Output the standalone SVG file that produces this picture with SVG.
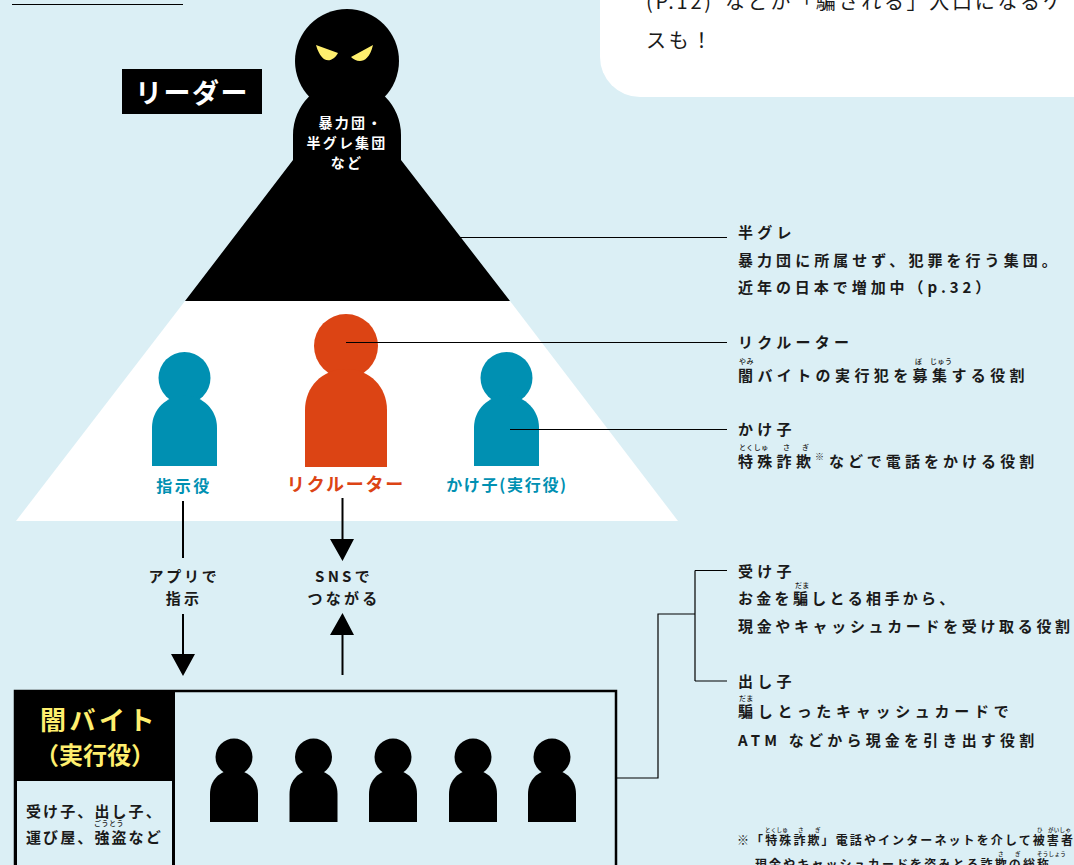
<svg xmlns="http://www.w3.org/2000/svg" width="1074" height="865" viewBox="0 0 1074 865">
<defs>
<g id="p"><circle cx="0" cy="-24" r="18.500"/><path d="M-24 41V13C-24 -1 -14 -11 0 -11C14 -11 24 -1 24 13V41Z"/></g>
<g id="t"><circle cx="0" cy="-31.500" r="26"/><path d="M-32.500 56.500V18C-32.500 0 -18 -14 0 -14C18 -14 32.500 0 32.500 18V56.500Z"/></g>
</defs>
<style>
text{font-family:"Noto Sans CJK JP","Noto Sans",sans-serif;font-weight:700;fill:#1a1a1a}
.b{font-size:15px;letter-spacing:4.300px}
.r{font-size:7px;letter-spacing:0.5px;font-weight:500}
.f{font-size:5.500px;letter-spacing:0.3px;font-weight:500}
.n{font-size:20px;font-weight:400;letter-spacing:2.700px}
.w{font-size:14px;letter-spacing:2.200px;fill:#fff;text-anchor:middle}
.e{font-size:15px;letter-spacing:3.200px;text-anchor:middle}
.s{font-size:12px;letter-spacing:2.100px}
.y{fill:#ffef6e;text-anchor:middle}
.m{font-size:15px;letter-spacing:2.100px}
.l{stroke:#000;stroke-width:1.200;fill:none}
.a{stroke:#000;stroke-width:2;fill:none}
</style>
<rect width="1074" height="865" fill="#dbeff5"/>
<path d="M12 4.500H183" stroke="#000" stroke-width="1"/>
<g id="note"><path d="M600 -20H1074V97H640A40 40 0 0 1 600 57Z" fill="#fff"/>
<text class="n" x="646" y="9">(P.12)<tspan x="725">などが「騙される」入口になるケ</tspan></text>
<text class="n" x="646" y="48">スも！</text></g>
<g id="pyramid-lower"><path d="M185 301H510L678 521H16Z" fill="#fff"/></g>
<g id="leader"><circle cx="347" cy="61" r="52"/>
<path d="M293 160V135A54 54 0 0 1 401 135V160L510 301H185Z" fill="#000"/>
<path d="M316 45L338 53C333 62 322 66 316 45ZM373 45L351 57C356 62 368 66 373 45Z" fill="#ffef6e"/>
<text class="w" x="351" y="128">暴力団・</text>
<text class="w" x="347" y="148">半グレ集団</text>
<text class="w" x="347" y="168">など</text></g>
<g id="leader-label"><rect x="122" y="69" width="140" height="45" fill="#000"/><text x="192" y="103" text-anchor="middle" style="font-size:27px;letter-spacing:1.500px;fill:#fff">リーダー</text></g>
<g id="shiji"><use href="#t" transform="translate(184.500,409.500)" fill="#0090b2"/><text x="184" y="492" text-anchor="middle" style="font-size:16px;letter-spacing:2.500px;fill:#0090b2">指示役</text></g>
<g id="recruiter"><circle cx="346" cy="346" r="32" fill="#dc4414"/><path d="M305 467V410C305 387 322 369 346 369C370 369 387 387 387 410V467Z" fill="#dc4414"/><text x="346" y="491" text-anchor="middle" style="font-size:18px;letter-spacing:1.800px;fill:#dc4414">リクルーター</text></g>
<g id="kakeko"><use href="#t" transform="translate(506.500,409.500)" fill="#0090b2"/><text x="507" y="491" text-anchor="middle" style="font-size:16px;letter-spacing:1.700px;fill:#0090b2">かけ子(実行役)</text></g>
<g id="connectors">
<path class="l" d="M459 237.500H727M346 342.500H727M510 429.500H727M617 778H658V614H695M695 570.500V681M695 570.500H727M695 681H727"/>
<path class="a" d="M183 501V558M183 614V654M342.500 498V540M342.500 634V675"/>
<path d="M171 654H195L183 676Z M330 539H354L342.500 561Z M330 635H354L342.500 613Z"/>
</g>
<g id="edge-labels">
<text class="e" x="184" y="582" style="letter-spacing:2.800px">アプリで</text><text class="e" x="184" y="604">指示</text>
<text class="e" x="344" y="582">SNSで</text><text class="e" x="344" y="604">つながる</text>
</g>
<g id="yami">
<rect x="15" y="691" width="601" height="190" fill="#dbeff5" stroke="#000" stroke-width="2.500"/>
<rect x="15" y="691" width="160" height="190" fill="#000"/>
<rect x="17" y="781" width="155" height="100" fill="#dbeff5"/>
<text class="y" x="99" y="730" style="font-size:26px;letter-spacing:3.500px">闇バイト</text>
<text class="y" x="95" y="764" style="font-size:24px">（実行役）</text>
<text class="m" x="26" y="817">受け子、出し子、</text>
<text class="m" x="26" y="843">運び屋、強盗など</text>
<text x="94" y="826" class="r">ごうとう</text>
<use href="#p" transform="translate(234,781)"/><use href="#p" transform="translate(313.500,781)"/><use href="#p" transform="translate(393,781)"/><use href="#p" transform="translate(473,781)"/><use href="#p" transform="translate(552,781)"/>
</g>
<g id="desc-hangure"><text class="b" x="738" y="238">半グレ</text><text class="b" x="738" y="266" style="letter-spacing:4.050px">暴力団に所属せず、犯罪を行う集団。</text><text class="b" x="738" y="293" style="letter-spacing:3.950px">近年の日本で増加中（p.32）</text></g>
<g id="desc-recruiter"><text class="b" x="738" y="348">リクルーター</text><text class="r" x="739" y="364">やみ</text><text class="r" x="915" y="364">ぼ</text><text class="r" x="930" y="364">じゅう</text><text class="b" x="738" y="381" style="letter-spacing:4.400px">闇バイトの実行犯を募集する役割</text></g>
<g id="desc-kakeko"><text class="b" x="738" y="435">かけ子</text><text class="r" x="739" y="450">とくしゅ</text><text class="r" x="783" y="450">さ</text><text class="r" x="802" y="450">ぎ</text><text class="b" x="738" y="467">特殊詐欺</text><text x="815" y="460" style="font-size:9px;font-weight:400">※</text><text class="b" x="829" y="467" style="letter-spacing:4.050px">などで電話をかける役割</text></g>
<g id="desc-ukeko"><text class="b" x="738" y="577">受け子</text><text class="r" x="795" y="588">だま</text><text class="b" x="738" y="604" style="letter-spacing:3.300px">お金を騙しとる相手から、</text><text class="b" x="738" y="632" style="letter-spacing:3.650px">現金やキャッシュカードを受け取る役割</text></g>
<g id="desc-dashiko"><text class="b" x="738" y="687">出し子</text><text class="r" x="739" y="701">だま</text><text class="b" x="738" y="717" style="letter-spacing:4.700px">騙しとったキャッシュカードで</text><text class="b" x="738" y="746" style="letter-spacing:4.200px">ATM などから現金を引き出す役割</text></g>
<g id="footnote"><text class="s" x="737" y="845">※「特殊詐欺」電話やインターネットを介して被害者</text>
<text class="s" x="755" y="869">現金やキャッシュカードを盗みとる詐欺の総称</text>
<text class="f" x="765" y="832">とくしゅ</text><text class="f" x="798" y="832">さ</text><text class="f" x="815" y="832">ぎ</text><text class="f" x="1037" y="832">ひ</text><text class="f" x="1048" y="832">がいしゃ</text>
<text class="f" x="998" y="856">さ</text><text class="f" x="1015" y="856">ぎ</text><text class="f" x="1037" y="856">そうしょう</text></g>
</svg>
